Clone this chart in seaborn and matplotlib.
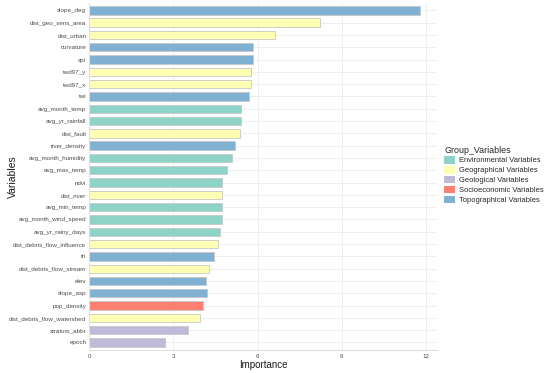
import matplotlib
matplotlib.use('Agg')
import matplotlib.pyplot as plt
import matplotlib.patches as mpatches
import pandas as pd
import seaborn as sns

variables = ['slope_deg', 'dist_geo_sens_area', 'dist_urban', 'curvature', 'spi',
             'twd97_y', 'twd97_x', 'twi', 'avg_month_temp', 'avg_yr_rainfall',
             'dist_fault', 'river_density', 'avg_month_humidity', 'avg_max_temp',
             'ndvi', 'dist_river', 'avg_min_temp', 'avg_month_wind_speed',
             'avg_yr_rainy_days', 'dist_debris_flow_influence', 'tri',
             'dist_debris_flow_stream', 'elev', 'slope_asp', 'pop_density',
             'dist_debris_flow_watershed', 'stratum_abbr', 'epoch']
importance = [11.80, 8.22, 6.62, 5.85, 5.82, 5.76, 5.76, 5.69, 5.42, 5.40,
              5.37, 5.18, 5.10, 4.90, 4.75, 4.74, 4.74, 4.72, 4.66, 4.59,
              4.44, 4.28, 4.18, 4.21, 4.05, 3.95, 3.52, 2.69]
groups = ['Topographical Variables', 'Geographical Variables', 'Geographical Variables',
          'Topographical Variables', 'Topographical Variables', 'Geographical Variables',
          'Geographical Variables', 'Topographical Variables', 'Environmental Variables',
          'Environmental Variables', 'Geographical Variables', 'Topographical Variables',
          'Environmental Variables', 'Environmental Variables', 'Environmental Variables',
          'Geographical Variables', 'Environmental Variables', 'Environmental Variables',
          'Environmental Variables', 'Geographical Variables', 'Topographical Variables',
          'Geographical Variables', 'Topographical Variables', 'Topographical Variables',
          'Socioeconomic Variables', 'Geographical Variables', 'Geological Variables',
          'Geological Variables']

group_names = ['Environmental Variables', 'Geographical Variables', 'Geological Variables',
               'Socioeconomic Variables', 'Topographical Variables']
group_colors = ['#8DD3C7', '#FFFFB3', '#BEBADA', '#FB8072', '#80B1D3']
palette = dict(zip(group_names, group_colors))

df = pd.DataFrame({'Variables': variables, 'Importance': importance, 'Group_Variables': groups})

sns.set_style('whitegrid')
plt.rcParams['font.family'] = ['Liberation Sans', 'DejaVu Sans']

fig = plt.figure(figsize=(5.5, 3.73), dpi=100)
ax = fig.add_axes([0.162, 0.062, 0.633, 0.930])

sns.barplot(data=df, y='Variables', x='Importance', hue='Group_Variables',
            palette=palette, dodge=False, width=0.68, order=variables,
            saturation=1, edgecolor='#C8C8C8', linewidth=0.6, legend=False, ax=ax)

ax.set_xlim(0, 12.4)
ax.set_ylim(len(variables) - 0.4, -0.6)
ax.set_xticks([0, 3, 6, 9, 12])
ax.set_xticklabels(['0', '3', '6', '9', '12'])
ax.tick_params(axis='both', length=0, colors='#4D4D4D', labelsize=4.5, pad=2)
ax.tick_params(axis='x', pad=3)
ax.grid(True, color='#EBEBEB', linewidth=0.6)
ax.set_axisbelow(True)
for s in ['top', 'right']:
    ax.spines[s].set_visible(False)
for s in ['left', 'bottom']:
    ax.spines[s].set_color('#E0E0E0')
    ax.spines[s].set_linewidth(0.8)

ax.set_xlabel('Importance', fontsize=7, color='#1A1A1A', labelpad=1)
ax.set_ylabel('Variables', fontsize=7.5, color='#1A1A1A')
ax.yaxis.set_label_coords(-0.205, 0.5)

handles = [mpatches.Patch(facecolor=palette[g], edgecolor='none', label=g) for g in group_names]
leg = ax.legend(handles=handles, title='Group_Variables', loc='center left',
                bbox_to_anchor=(1.005, 0.505), frameon=False, fontsize=5.4,
                title_fontsize=6.4, handlelength=1.5, handleheight=1.2,
                handletextpad=0.5, labelspacing=0.2, borderaxespad=0.3)
leg._legend_box.align = 'left'

fig.savefig('out.png', dpi=100)
